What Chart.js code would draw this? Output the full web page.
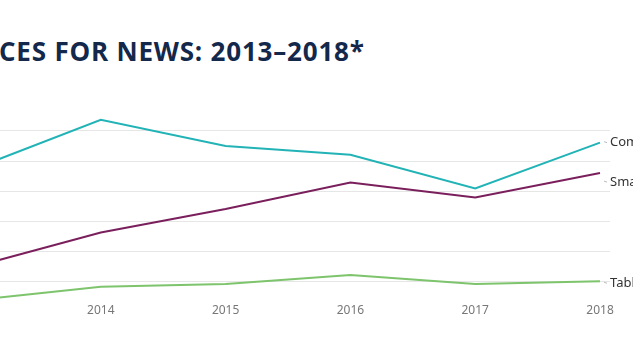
<!DOCTYPE html>
<html>
<head>
<meta charset="utf-8">
<script src="https://cdn.jsdelivr.net/npm/chart.js@4"></script>
<style>
  html, body { margin: 0; padding: 0; background: #fff; overflow: hidden; }
  body { width: 633px; height: 350px; position: relative; }
  .title {
    position: absolute; left: -1px; top: 38px;
    font-family: "Open Sans", Lato, sans-serif; font-weight: 700;
    font-size: 26px; line-height: 26px; letter-spacing: 0.8px;
    color: #13284b; white-space: nowrap;
  }
  .wrap { position: absolute; left: -60px; top: 0; width: 700px; height: 350px; }
</style>
</head>
<body>
<div class="title">CES FOR NEWS: 2013–2018*</div>
<div class="wrap"><canvas id="myChart"></canvas></div>
<script>
// data (share of people, %)
const years = [2013, 2014, 2015, 2016, 2017, 2018];
const seriesNames = ['Computer', 'Smartphone', 'Tablet'];
const computer = [47.7, 63.7, 55.0, 52.1, 40.9, 56.1];
const smartphone = [15.1, 26.3, 34.1, 42.9, 37.9, 46.0];
const tablet = [3.9, 8.3, 9.2, 12.2, 9.2, 10.1];
const gridValues = [10, 20, 30, 40, 50, 60];

const colors = ['#22b3b7', '#7a1f5c', '#7dc46c'];
const labelShift = [0, 9, 2]; // nudge end labels so they dont overlap

const toPoints = arr => arr.map((v, i) => ({ x: years[i], y: v }));

// end-of-line labels with a little leader tick
const endLabels = {
  id: 'endLabels',
  afterDatasetsDraw(chart) {
    const ctx = chart.ctx;
    ctx.save();
    ctx.font = '13px "Noto Sans", sans-serif';
    ctx.textBaseline = 'middle';
    chart.data.datasets.forEach((ds, i) => {
      const meta = chart.getDatasetMeta(i);
      const p = meta.data[meta.data.length - 1];
      const y = p.y + labelShift[i];
      ctx.strokeStyle = '#bbb';
      ctx.lineWidth = 1;
      ctx.beginPath();
      ctx.moveTo(p.x + 4, y - 1);
      ctx.lineTo(p.x + 7, y);
      ctx.stroke();
      ctx.fillStyle = '#333';
      ctx.fillText(ds.label, p.x + 10, y);
    });
    ctx.restore();
  }
};

const ctx = document.getElementById('myChart').getContext('2d');
new Chart(ctx, {
  type: 'line',
  data: {
    datasets: [
      { label: seriesNames[0], data: toPoints(computer), borderColor: colors[0] },
      { label: seriesNames[1], data: toPoints(smartphone), borderColor: colors[1] },
      { label: seriesNames[2], data: toPoints(tablet), borderColor: colors[2] }
    ].map(d => Object.assign(d, { borderWidth: 2, pointRadius: 0, tension: 0, clip: false }))
  },
  options: {
    responsive: true,
    maintainAspectRatio: false,
    devicePixelRatio: 1,
    animation: false,
    layout: { padding: { left: 36, right: 30, top: 100.8, bottom: 25 } },
    plugins: { legend: { display: false }, tooltip: { enabled: false } },
    scales: {
      x: {
        type: 'linear',
        min: 2013,
        max: 2018.08,
        grid: { display: false, drawTicks: false },
        border: { display: false },
        ticks: {
          stepSize: 1,
          includeBounds: false,
          autoSkip: false,
          maxRotation: 0,
          padding: 7,
          color: '#777',
          font: { family: '"Noto Sans", sans-serif', size: 12 },
          callback: v => Number.isInteger(v) ? String(v) : ''
        }
      },
      y: {
        min: 5,
        max: 70,
        afterBuildTicks: scale => { scale.ticks = gridValues.map(v => ({ value: v })); },
        grid: { color: '#e6e6e6', drawTicks: false, lineWidth: 1 },
        border: { display: false },
        ticks: { display: false }
      }
    }
  },
  plugins: [endLabels]
});
</script>
</body>
</html>
